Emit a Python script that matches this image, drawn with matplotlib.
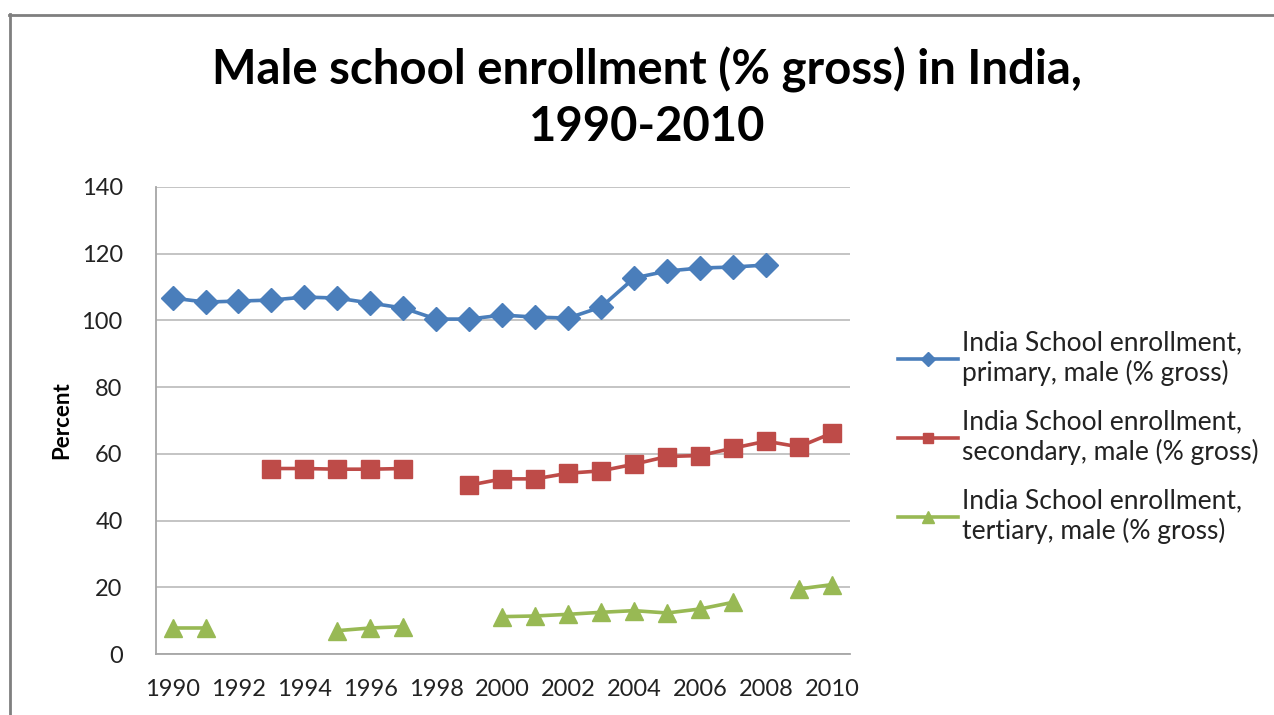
import numpy as np
import matplotlib
matplotlib.use("Agg")
import matplotlib.pyplot as plt
from matplotlib.lines import Line2D

plt.rcParams['font.family'] = ['Lato', 'DejaVu Sans']

nan = np.nan
years = list(range(1990, 2011))

# values (gaps = no data)
primary = [106.7, 105.5, 105.8, 106.1, 107.0, 106.7, 105.2, 103.7, 100.4, 100.4,
           101.6, 101.0, 100.7, 104.0, 112.7, 114.8, 115.7, 116.0, 116.6, nan, nan]
secondary = [nan, nan, nan, 55.6, 55.6, 55.4, 55.4, 55.6, nan, 50.6,
             52.5, 52.5, 54.2, 54.9, 56.9, 59.2, 59.5, 61.7, 63.8, 62.1, 66.2]
tertiary = [7.8, 7.8, nan, nan, nan, 7.0, 7.8, 8.2, nan, nan,
            11.2, 11.4, 11.9, 12.5, 13.0, 12.3, 13.5, 15.5, nan, 19.5, 20.8]

labels = ["India School enrollment,\nprimary, male (% gross)",
          "India School enrollment,\nsecondary, male (% gross)",
          "India School enrollment,\ntertiary, male (% gross)"]
colors = ["#4A7EBB", "#BE4B48", "#98B954"]
markers = ["D", "s", "^"]
msizes = [12, 12.5, 13.5]

fig = plt.figure(figsize=(12.74, 7.15), dpi=100)
ax = fig.add_axes([0.1225, 0.0853, 0.5447, 0.6532])

for vals, lab, c, m, ms in zip([primary, secondary, tertiary], labels, colors, markers, msizes):
    ax.plot(years, vals, color=c, lw=2.6, marker=m, markersize=ms,
            markeredgecolor=c, label=lab)

ax.set_xlim(1989.5, 2010.55)
ax.set_ylim(0, 140)
ax.set_yticks(range(0, 141, 20))
ax.set_xticks(range(1990, 2011, 2))
ax.yaxis.grid(True, color="#BFBFBF", lw=1.3)
ax.set_axisbelow(True)
for s in ["top", "right"]:
    ax.spines[s].set_visible(False)
for s in ["left", "bottom"]:
    ax.spines[s].set_color("#A6A6A6")
    ax.spines[s].set_linewidth(1.3)
ax.tick_params(axis="both", length=0, labelsize=17, colors="#222222")
ax.tick_params(axis="y", pad=24)
ax.tick_params(axis="x", pad=18)
ax.set_ylabel("Percent", fontsize=16, fontweight="bold")
ax.yaxis.set_label_coords(-0.121, 0.5)

fig.text(0.508, 0.902, "Male school enrollment (% gross) in India,", ha="center",
         va="center", fontsize=34, fontweight="bold")
fig.text(0.508, 0.822, "1990-2010", ha="center", va="center",
         fontsize=34, fontweight="bold")

leg = ax.legend(loc="upper left", bbox_to_anchor=(1.0535, 0.715), frameon=False,
                fontsize=19, handlelength=2.3, handletextpad=0.15,
                labelspacing=0.9, markerscale=0.6, borderaxespad=0)
for t in leg.get_texts():
    t.set_color("#222222")

# gray frame around the picture
fig.add_artist(Line2D([9 / 1274, 1], [1 - 14.5 / 715] * 2, color="#7F7F7F", lw=2,
                      transform=fig.transFigure))
fig.add_artist(Line2D([9.5 / 1274] * 2, [0, 1 - 14 / 715], color="#7F7F7F", lw=2,
                      transform=fig.transFigure))

fig.savefig("out.png", dpi=100)
